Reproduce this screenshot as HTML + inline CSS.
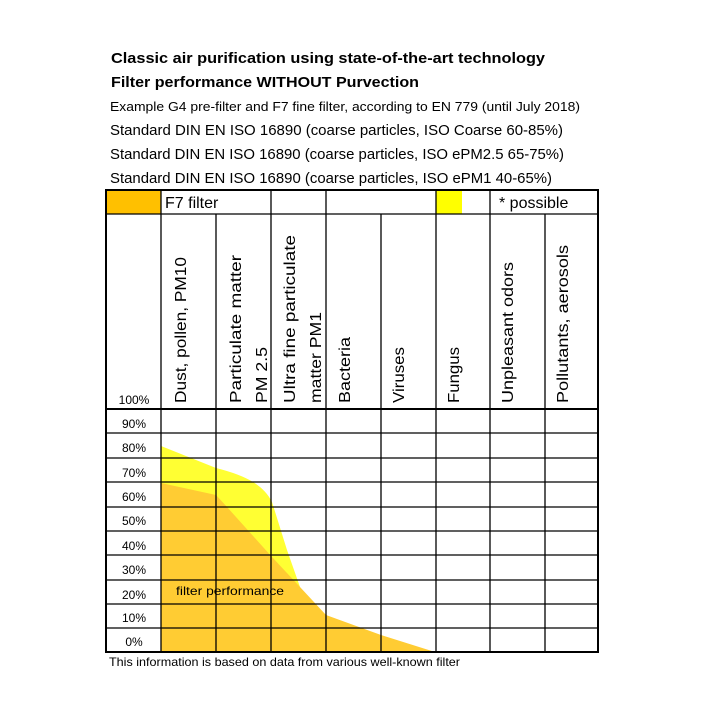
<!DOCTYPE html>
<html><head><meta charset="utf-8"><style>html,body{margin:0;padding:0;background:#fff}svg{display:block}</style></head><body>
<svg width="709" height="709" viewBox="0 0 709 709" xmlns="http://www.w3.org/2000/svg" font-family="Liberation Sans, sans-serif">
<rect width="709" height="709" fill="#fff"/>
<g fill="#000">
<text x="111" y="63" font-size="15" font-weight="bold" textLength="434" lengthAdjust="spacingAndGlyphs">Classic air purification using state-of-the-art technology</text>
<text x="111" y="87" font-size="15" font-weight="bold" textLength="308" lengthAdjust="spacingAndGlyphs">Filter performance WITHOUT Purvection</text>
<text x="110" y="111" font-size="13" textLength="470" lengthAdjust="spacingAndGlyphs">Example G4 pre-filter and F7 fine filter, according to EN 779 (until July 2018)</text>
<text x="110" y="135" font-size="15" textLength="453" lengthAdjust="spacingAndGlyphs">Standard DIN EN ISO 16890 (coarse particles, ISO Coarse 60-85%)</text>
<text x="110" y="159" font-size="15" textLength="454" lengthAdjust="spacingAndGlyphs">Standard DIN EN ISO 16890 (coarse particles, ISO ePM2.5 65-75%)</text>
<text x="110" y="183" font-size="15" textLength="442" lengthAdjust="spacingAndGlyphs">Standard DIN EN ISO 16890 (coarse particles, ISO ePM1 40-65%)</text>
</g>
<rect x="106" y="190" width="55" height="24" fill="#FFC000"/>
<rect x="436" y="190" width="26" height="24" fill="#FFFF00"/>
<path d="M161,446 L216,468 Q240,474 253,482 Q266,490 272,502 L287,550 L300,587 L300,652 L161,652 Z" fill="#FFFF33"/>
<path d="M161,483 L216,495 L227,507 L272,557 L300,587 L326,615 L381,635 L435,652 L161,652 Z" fill="#FFCC33"/>
<g stroke="#000" stroke-width="1.3" fill="none">
<rect x="106" y="190" width="492" height="462" stroke-width="2"/>
<line x1="106" y1="214" x2="598" y2="214"/>
<line x1="106" y1="409" x2="598" y2="409" stroke-width="2"/>
<line x1="161" y1="190" x2="161" y2="652"/>
<line x1="271" y1="190" x2="271" y2="652"/>
<line x1="326" y1="190" x2="326" y2="652"/>
<line x1="436" y1="190" x2="436" y2="652"/>
<line x1="490" y1="190" x2="490" y2="652"/>
<line x1="216" y1="214" x2="216" y2="652"/>
<line x1="381" y1="214" x2="381" y2="652"/>
<line x1="545" y1="214" x2="545" y2="652"/>
<line x1="106" y1="433" x2="598" y2="433"/>
<line x1="106" y1="458" x2="598" y2="458"/>
<line x1="106" y1="482" x2="598" y2="482"/>
<line x1="106" y1="507" x2="598" y2="507"/>
<line x1="106" y1="531" x2="598" y2="531"/>
<line x1="106" y1="555" x2="598" y2="555"/>
<line x1="106" y1="580" x2="598" y2="580"/>
<line x1="106" y1="604" x2="598" y2="604"/>
<line x1="106" y1="628" x2="598" y2="628"/>
</g>
<g fill="#000" font-size="16">
<text x="165" y="208">F7 filter</text>
<text x="499" y="208">* possible</text>
</g>
<g fill="#000" font-size="16" lengthAdjust="spacingAndGlyphs">
<text transform="translate(186,403) rotate(-90)" textLength="146" lengthAdjust="spacingAndGlyphs">Dust, pollen, PM10</text>
<text transform="translate(241,403) rotate(-90)" textLength="148" lengthAdjust="spacingAndGlyphs">Particulate matter</text>
<text transform="translate(267,403) rotate(-90)" textLength="56" lengthAdjust="spacingAndGlyphs">PM 2.5</text>
<text transform="translate(295,403) rotate(-90)" textLength="168" lengthAdjust="spacingAndGlyphs">Ultra fine particulate</text>
<text transform="translate(321,403) rotate(-90)" textLength="91" lengthAdjust="spacingAndGlyphs">matter PM1</text>
<text transform="translate(350,403) rotate(-90)" textLength="66" lengthAdjust="spacingAndGlyphs">Bacteria</text>
<text transform="translate(404,403) rotate(-90)" textLength="56" lengthAdjust="spacingAndGlyphs">Viruses</text>
<text transform="translate(459,403) rotate(-90)" textLength="56" lengthAdjust="spacingAndGlyphs">Fungus</text>
<text transform="translate(513,403) rotate(-90)" textLength="141" lengthAdjust="spacingAndGlyphs">Unpleasant odors</text>
<text transform="translate(568,403) rotate(-90)" textLength="158" lengthAdjust="spacingAndGlyphs">Pollutants, aerosols</text>
</g>
<g fill="#000" font-size="12" text-anchor="middle">
<text x="134" y="404">100%</text>
<text x="134" y="428">90%</text>
<text x="134" y="452">80%</text>
<text x="134" y="477">70%</text>
<text x="134" y="501">60%</text>
<text x="134" y="525">50%</text>
<text x="134" y="550">40%</text>
<text x="134" y="574">30%</text>
<text x="134" y="599">20%</text>
<text x="134" y="622">10%</text>
<text x="134" y="646">0%</text>
</g>
<text x="176" y="595" font-size="12" fill="#000" textLength="108" lengthAdjust="spacingAndGlyphs">filter performance</text>
<text x="109" y="666" font-size="12" fill="#000" textLength="351" lengthAdjust="spacingAndGlyphs">This information is based on data from various well-known filter</text>
</svg>
</body></html>
